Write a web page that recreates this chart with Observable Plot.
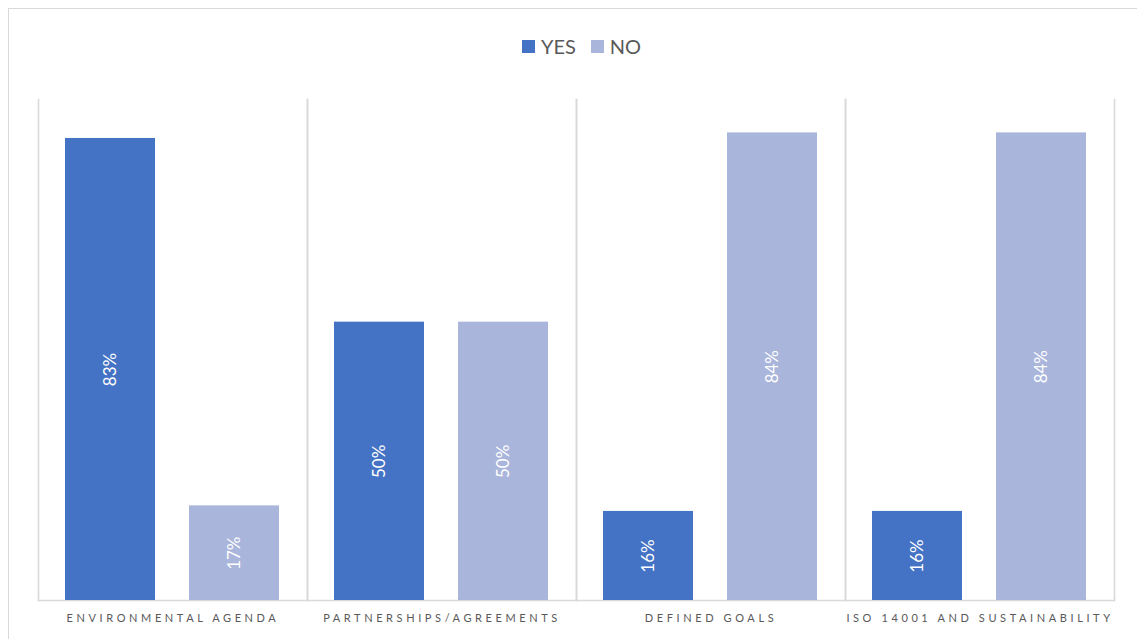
<!DOCTYPE html>
<html>
<head>
<meta charset="utf-8">
<script src="https://cdn.jsdelivr.net/npm/d3@7"></script>
<script src="https://cdn.jsdelivr.net/npm/@observablehq/plot@0.6"></script>
<style>
  html, body { margin: 0; padding: 0; background: #fff; overflow: hidden; }
  body { width: 1137px; height: 639px; position: relative; font-family: Lato, "Open Sans", sans-serif; }
  #frame { position: absolute; left: 8px; top: 8px; width: 1300px; height: 800px; border: 1px solid #d9d9d9; box-sizing: border-box; }
  #legend { position: absolute; top: 34px; left: 13px; width: 1137px; display: flex; justify-content: center; gap: 15px; font-size: 20px; color: #595959; }
  #legend .item { display: flex; align-items: center; gap: 6px; }
  #legend .sw { width: 13px; height: 13px; display: inline-block; }
  #chart { position: absolute; left: 0; top: 0; }
  #chart svg [aria-label="fx-axis tick label"] text { letter-spacing: 3.6px; }
</style>
</head>
<body>
<div id="frame"></div>
<div id="legend"></div>
<div id="chart"></div>
<script>
const categories = ["ENVIRONMENTAL AGENDA", "PARTNERSHIPS/AGREEMENTS", "DEFINED GOALS", "ISO 14001 AND SUSTAINABILITY"];
const series = ["YES", "NO"];
const yesValues = [83, 50, 16, 16];
const noValues = [17, 50, 84, 84];
const colors = ["#4472c4", "#a9b5db"];

const data = [];
categories.forEach((c, i) => {
  data.push({cat: c, resp: "YES", value: yesValues[i]});
  data.push({cat: c, resp: "NO", value: noValues[i]});
});

const legend = document.getElementById("legend");
series.forEach((s, i) => {
  const item = document.createElement("span");
  item.className = "item";
  item.innerHTML = `<span class="sw" style="background:${colors[i]}"></span><span>${s}</span>`;
  legend.appendChild(item);
});

const chart = Plot.plot({
  width: 1137,
  height: 639,
  marginLeft: 38,
  marginRight: 23,
  marginTop: 99,
  marginBottom: 39,
  style: {background: "transparent", fontFamily: "Lato, 'Open Sans', sans-serif"},
  fx: {domain: categories, padding: 0, label: null},
  x: {domain: series, paddingInner: 0.272, paddingOuter: 0.212, axis: null},
  y: {domain: [0, 90], axis: null},
  color: {domain: series, range: colors},
  marks: [
    Plot.frame({anchor: "left", stroke: "#d9d9d9", strokeWidth: 1.6}),
    Plot.frame({anchor: "right", stroke: "#d9d9d9", strokeWidth: 1.6}),
    Plot.ruleY([0], {stroke: "#d9d9d9", strokeWidth: 1.6}),
    Plot.barY(data, {fx: "cat", x: "resp", y: "value", fill: "resp"}),
    Plot.text(data, {fx: "cat", x: "resp", y: d => d.value / 2, text: d => d.value + "%", rotate: -90, fill: "white", fontSize: 17}),
    Plot.axisFx({anchor: "bottom", tickSize: 0, tickPadding: 14, fontSize: 11, color: "#595959", label: null})
  ]
});
document.getElementById("chart").appendChild(chart);
</script>
</body>
</html>
